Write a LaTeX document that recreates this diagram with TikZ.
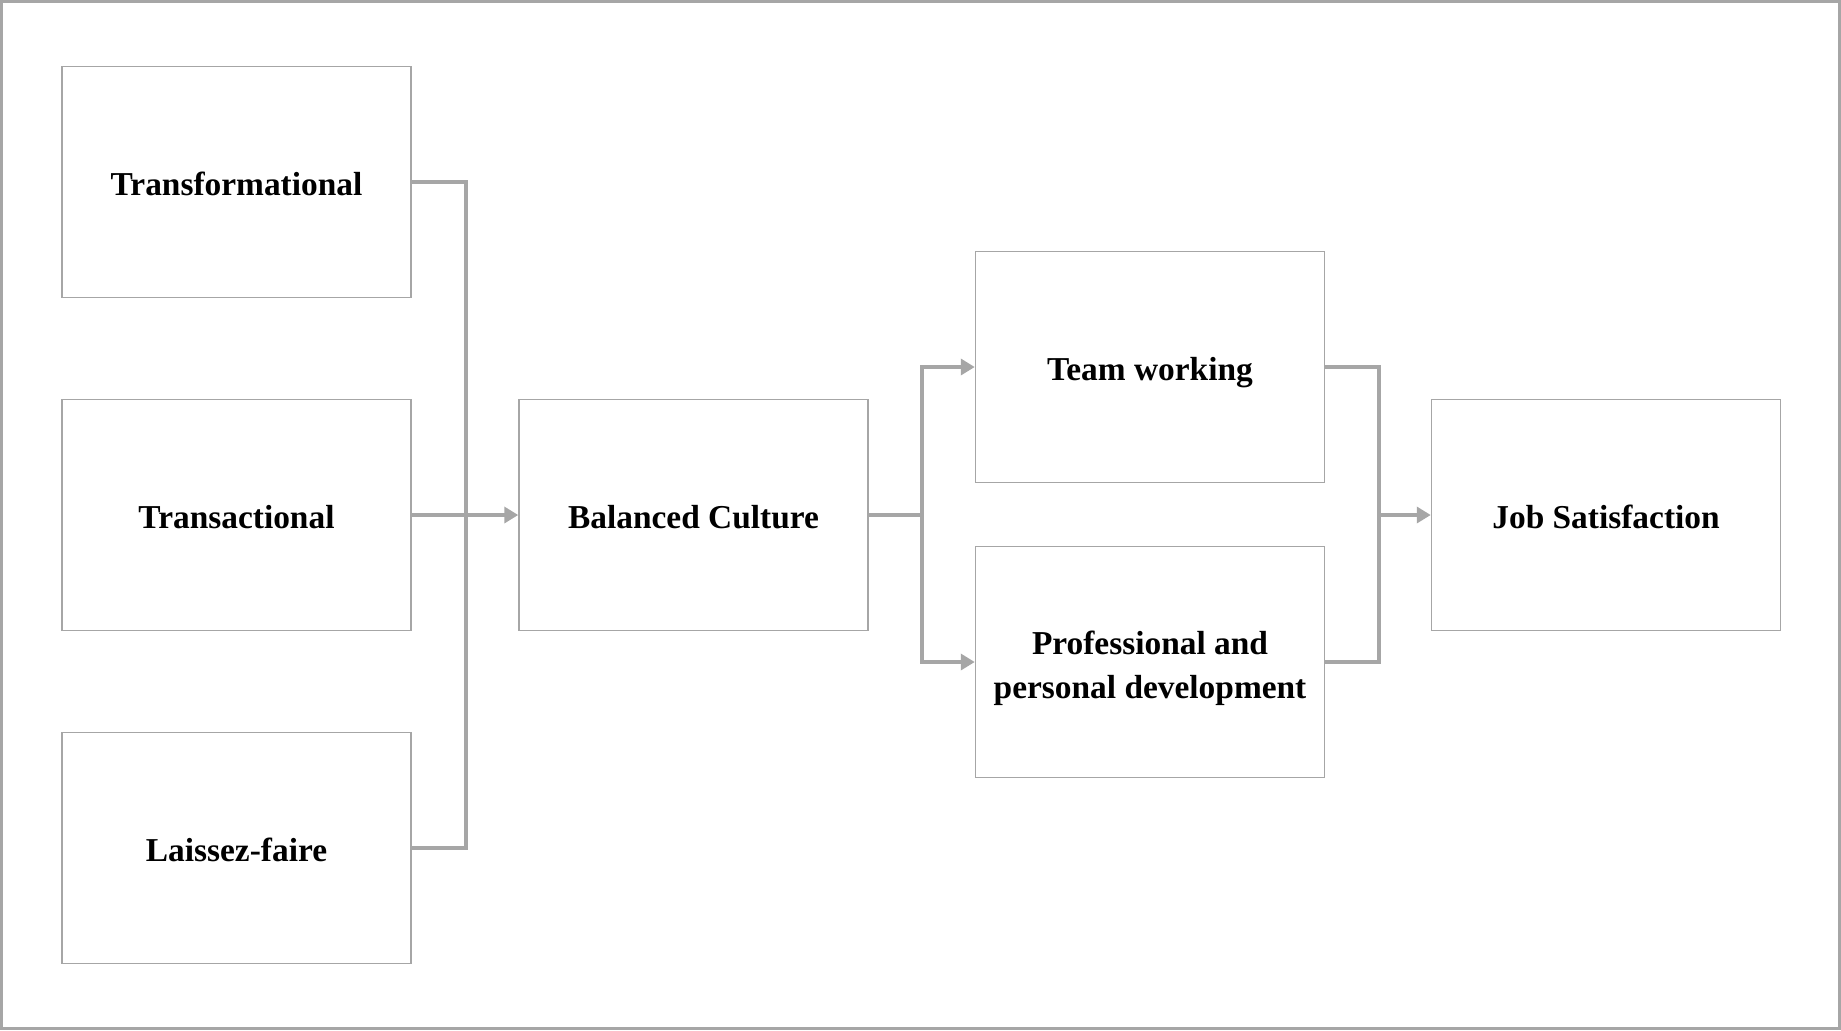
\documentclass[tikz,border=0pt]{standalone}
\usepackage{fontspec}
\setmainfont{Liberation Serif}
\usetikzlibrary{arrows.meta}
\definecolor{linegray}{HTML}{A6A6A6}
\begin{document}
\begin{tikzpicture}[x=0.5pt, y=-0.5pt,
    box/.style={draw=linegray, line width=0.75pt, minimum width=174.5pt,
                minimum height=115.5pt, inner sep=0pt, align=center,
                font=\fontsize{16.7}{21.7}\selectfont\bfseries},
    oneline/.style={box, text height=13pt, text depth=0pt},
    link/.style={draw=linegray, line width=2pt},
    tip/.style={link, -{Triangle[length=7pt, width=8pt]}}]
      \useasboundingbox (0, 0) rectangle (1841, 1030);
      \draw [linegray, line width=1.5pt] (1.5, 1.5) rectangle (1839.5, 1028.5);
      \node [oneline] (trf) at (236.5, 182) {Transformational};
      \node [oneline] (trs) at (236.5, 515) {Transactional};
      \node [oneline] (lzf) at (236.5, 848) {Laissez-faire};
      \node [oneline] (bal) at (693.5, 515) {Balanced Culture};
      \node [oneline] (team) at (1150, 367) {Team working};
      \node [box] (prof) at (1150, 662)
            {\raisebox{-3pt}[\height][\depth]{\begin{tabular}{@{}c@{}}Professional and\\personal development\end{tabular}}};
      \node [oneline] (job) at (1606, 515) {Job Satisfaction};
      \coordinate (lbus) at (466, 515);
      \coordinate (mbus) at (922, 515);
      \coordinate (rbus) at (1379, 515);
      % the three styles join on one bus
      \draw [link] (trf.east) -| (lbus) |- (lzf.east);
      \draw [tip] (trs.east) -- (bal.west);
      \draw [link] (bal.east) -- (mbus);
      \draw [tip] (mbus) |- (team.west);
      \draw [tip] (mbus) |- (prof.west);
      \draw [link] (team.east) -| (rbus) |- (prof.east);
      \draw [tip] (rbus) -- (job.west);
\end{tikzpicture}
\end{document}
